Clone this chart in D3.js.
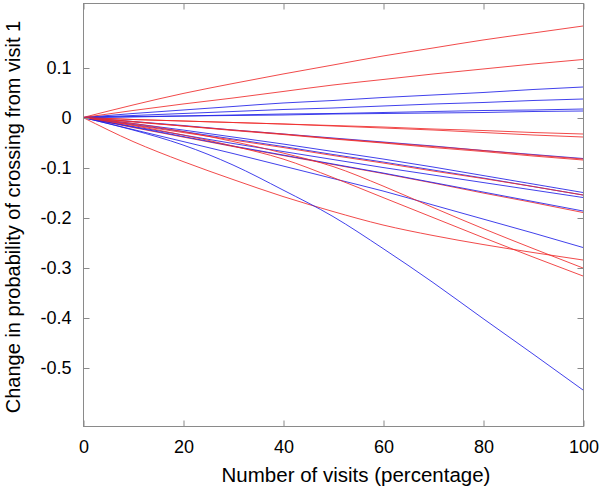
<!DOCTYPE html>
<html><head><meta charset="utf-8">
<script src="https://cdn.jsdelivr.net/npm/d3@7"></script>
<style>body{margin:0;background:#fff}svg{display:block}text{font-family:"Liberation Sans",Arial,sans-serif;fill:#000}</style>
</head><body><svg id="c" width="602" height="489"></svg>
<script>
const visits = [0,10,20,30,40,50,60,70,80,90,100];
const xTicks = [0,20,40,60,80,100];
const yTicks = [-0.5,-0.4,-0.3,-0.2,-0.1,0,0.1];
const xLabel = "Number of visits (percentage)";
const yLabel = "Change in probability of crossing from visit 1";

const red1  = [0, 0.025, 0.048, 0.068, 0.087, 0.105, 0.123, 0.139, 0.155, 0.169, 0.183];
const red2  = [0, 0.014, 0.027, 0.039, 0.052, 0.065, 0.076, 0.087, 0.097, 0.107, 0.116];
const red3  = [0, -0.004, -0.007, -0.010, -0.013, -0.016, -0.019, -0.023, -0.026, -0.030, -0.033];
const red4  = [0, -0.004, -0.007, -0.010, -0.013, -0.017, -0.021, -0.025, -0.030, -0.035, -0.039];
const red5  = [0, -0.008, -0.017, -0.025, -0.033, -0.042, -0.050, -0.058, -0.066, -0.075, -0.083];
const red6  = [0, -0.009, -0.017, -0.026, -0.034, -0.043, -0.051, -0.060, -0.068, -0.077, -0.085];
const red7  = [0, -0.015, -0.030, -0.045, -0.060, -0.076, -0.091, -0.107, -0.122, -0.138, -0.155];
const red8  = [0, -0.020, -0.039, -0.058, -0.076, -0.094, -0.112, -0.131, -0.151, -0.170, -0.190];
const red9  = [0, -0.048, -0.088, -0.124, -0.158, -0.188, -0.215, -0.236, -0.254, -0.270, -0.285];
const red10 = [0, -0.012, -0.028, -0.048, -0.071, -0.098, -0.137, -0.180, -0.222, -0.262, -0.301];
const red11 = [0, -0.016, -0.035, -0.057, -0.083, -0.120, -0.160, -0.200, -0.240, -0.279, -0.317];

const blue1  = [0, 0.008, 0.015, 0.022, 0.029, 0.034, 0.040, 0.045, 0.050, 0.056, 0.061];
const blue2  = [0, 0.004, 0.008, 0.012, 0.016, 0.019, 0.023, 0.027, 0.030, 0.034, 0.037];
const blue3  = [0, 0.002, 0.003, 0.005, 0.007, 0.008, 0.010, 0.012, 0.014, 0.015, 0.017];
const blue4  = [0, 0.001, 0.003, 0.004, 0.005, 0.007, 0.008, 0.009, 0.010, 0.012, 0.013];
const blue5  = [0, -0.008, -0.016, -0.025, -0.033, -0.041, -0.049, -0.057, -0.066, -0.074, -0.082];
const blue6  = [0, -0.012, -0.025, -0.039, -0.053, -0.068, -0.083, -0.099, -0.116, -0.133, -0.150];
const blue7  = [0, -0.014, -0.028, -0.043, -0.058, -0.074, -0.089, -0.105, -0.121, -0.138, -0.155];
const blue8  = [0, -0.018, -0.035, -0.052, -0.068, -0.084, -0.100, -0.115, -0.130, -0.145, -0.160];
const blue9  = [0, -0.019, -0.038, -0.057, -0.075, -0.093, -0.111, -0.130, -0.149, -0.168, -0.187];
const blue10 = [0, -0.024, -0.048, -0.072, -0.097, -0.122, -0.147, -0.175, -0.203, -0.231, -0.260];
const blue11 = [0, -0.025, -0.055, -0.095, -0.145, -0.198, -0.262, -0.330, -0.402, -0.473, -0.545];

const redSeries  = [red1, red2, red3, red4, red5, red6, red7, red8, red9, red10, red11];
const blueSeries = [blue1, blue2, blue3, blue4, blue5, blue6, blue7, blue8, blue9, blue10, blue11];

const svg = d3.select("#c");
const x = d3.scaleLinear().domain([0,100]).range([83,583]);
const y = d3.scaleLinear().domain([-0.617,0.229]).range([426,3]);
const axisCol = "#8a8a8a";

const line = d3.line().curve(d3.curveMonotoneX).x((d,i)=>x(visits[i])).y(d=>y(d));
const plot = svg.append("g");
const order = [];
for (let i=0;i<11;i++){ order.push({v:blueSeries[i],c:"#2020e8"}); order.push({v:redSeries[i],c:"#ee2a2a"}); }
plot.selectAll("path.s").data(order).join("path").attr("class","s")
  .attr("d",d=>line(d.v)).attr("fill","none").attr("stroke",d=>d.c)
  .attr("stroke-width",1).attr("stroke-opacity",0.85);

// box
svg.append("rect").attr("x",x(0)+0.5).attr("y",y(0.229)+0.5)
  .attr("width",x(100)-x(0)).attr("height",y(-0.617)-y(0.229))
  .attr("fill","none").attr("stroke",axisCol).attr("stroke-width",1);

// axes with inward ticks
const fmt = d => d===0 ? "0" : d3.format(".1f")(d).replace("\u2212","-");
const gx = svg.append("g").attr("transform",`translate(0.5,${y(-0.617)+0.5})`)
  .call(d3.axisBottom(x).tickValues(xTicks).tickSizeInner(-6).tickSizeOuter(0).tickPadding(14).tickFormat(d3.format("d")));
const gxt = svg.append("g").attr("transform",`translate(0.5,${y(0.229)+0.5})`)
  .call(d3.axisTop(x).tickValues(xTicks).tickSizeInner(-6).tickSizeOuter(0).tickFormat(""));
const gy = svg.append("g").attr("transform",`translate(${x(0)+0.5},0.5)`)
  .call(d3.axisLeft(y).tickValues(yTicks).tickSizeInner(-6).tickSizeOuter(0).tickPadding(12).tickFormat(fmt));
const gyr = svg.append("g").attr("transform",`translate(${x(100)+0.5},0.5)`)
  .call(d3.axisRight(y).tickValues(yTicks).tickSizeInner(-6).tickSizeOuter(0).tickFormat(""));
[gx,gxt,gy,gyr].forEach(g=>{
  g.select(".domain").remove();
  g.selectAll("line").attr("stroke",axisCol);
  g.selectAll("text").attr("font-size",18).attr("font-family","Liberation Sans, Arial, sans-serif").attr("fill","#000");
});

svg.append("text").attr("x",356).attr("y",481.5).attr("text-anchor","middle")
  .attr("font-size",20.5).text(xLabel);
svg.append("text").attr("transform","translate(19.5,217) rotate(-90)").attr("text-anchor","middle")
  .attr("font-size",20).text(yLabel);
</script></body></html>
